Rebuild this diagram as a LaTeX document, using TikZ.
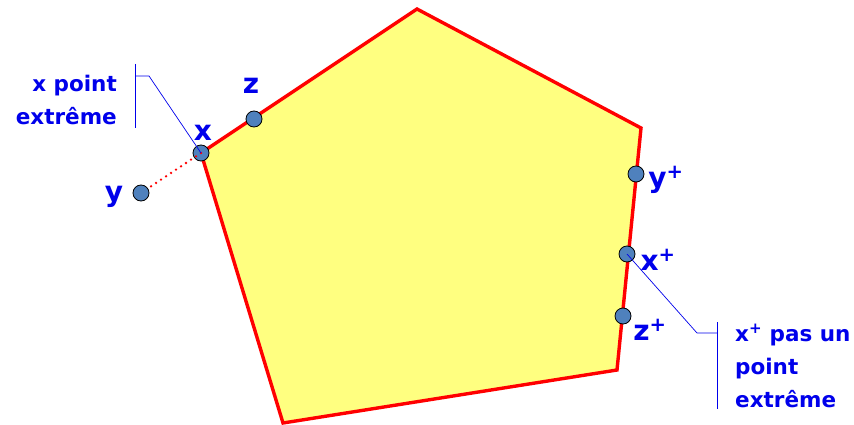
\documentclass[tikz,border=0pt]{standalone}
\usepackage{fontspec}
\setmainfont{DejaVu Sans}
\usetikzlibrary{calc}

\begin{document}
\begin{tikzpicture}[x=1pt,y=-1pt]

% Colours of the slide
\definecolor{txtblue}{RGB}{0,0,235}
\definecolor{polyfill}{RGB}{255,255,128}
\definecolor{dotfill}{RGB}{79,129,189}

\tikzset{
  pt/.style={circle, draw=black, fill=dotfill, line width=0.8pt,
    minimum size=16pt, inner sep=0pt},
  lbl/.style={text=txtblue, font=\fontsize{28}{30}\selectfont\bfseries, inner sep=0pt},
  note/.style={text=txtblue, font=\fontsize{21.5}{33}\selectfont\bfseries, inner sep=0pt},
  leader/.style={txtblue, line width=0.7pt}
}

\useasboundingbox (0,0) rectangle (854,425);

% The polytope
\draw[red, line width=3.4pt, fill=polyfill, line join=miter]
  (417,9) -- (641,128) -- (617,370) -- (283,423) -- (201,153) -- cycle;

% Points
\node[pt] (x) at (201,153) {};
\node[pt] (z) at (254,119) {};
\node[pt] (y) at (141,193) {};
\node[pt] (yp) at (636,174) {};
\node[pt] (xp) at (627,254) {};
\node[pt] (zp) at (623,316) {};

% Segment y -- x
\draw[red, line width=2.6pt, line cap=round, dash pattern=on 0pt off 6pt]
  (x.center) -- (y);

% Point labels
\node[lbl] (xl) at (203,133) {x};
\node[lbl] (zl) at (251,86) {z};
\node[lbl] (yl) at (114,197) {y};
\node[lbl] (ypl) at (666,180) {y\textsuperscript{+}};
\node[lbl] (xpl) at (658,260) {x\textsuperscript{+}};
\node[lbl] (zpl) at (650,330) {z\textsuperscript{+}};

% Callout left
\node[note, align=right, anchor=east] (xnote) at (117,100) {x point\\extrême};
\draw[leader] (135,64) -- (135,128);
\coordinate (xk) at (149,76);
\draw[leader] (135,76) -- (xk) -- (x.center);

% Callout right
\node[note, align=left, anchor=west] (xpnote) at (735,366) {x\textsuperscript{+} pas un\\point\\extrême};
\draw[leader] (717,322) -- (717,409);
\coordinate (xpk) at (697,333);
\draw[leader] (717,333) -- (xpk) -- (xp.center);

\end{tikzpicture}
\end{document}
